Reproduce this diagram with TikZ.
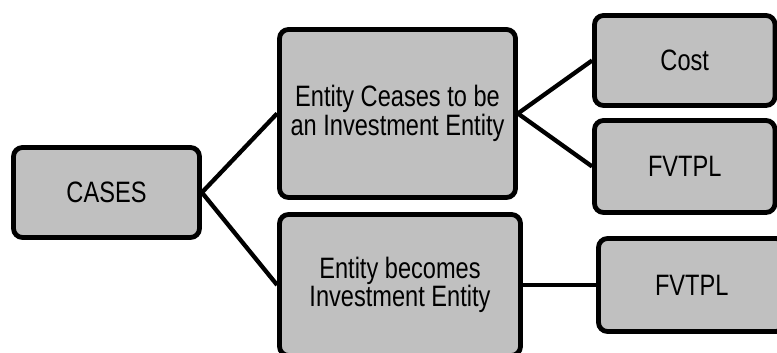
\documentclass[tikz,border=0pt]{standalone}
\usepackage{fontspec}
\setmainfont{Liberation Sans}[FakeStretch=0.8]
\definecolor{boxgray}{RGB}{192,192,192}
\begin{document}
\begin{tikzpicture}[x=1pt,y=1pt,
  box/.style={draw=black, fill=boxgray, line width=4.8pt, rounded corners=9pt,
    align=center, inner sep=0pt, font=\fontsize{29.5}{28.5}\selectfont},
  link/.style={draw=black, line width=4.3pt}]
\useasboundingbox (0,0) rectangle (777,353);
\clip (0,0) rectangle (777,353);
\node[box, minimum width=186pt, minimum height=90pt] (cases) at (106.5,160.5) {CASES};
\node[box, minimum width=236pt, minimum height=168pt] (cease) at (397.5,239.5) {Entity Ceases to be\\an Investment Entity};
\node[box, minimum width=241pt, minimum height=141pt] (become) at (400,68) {Entity becomes\\Investment Entity};
\node[box, minimum width=180.5pt, minimum height=90pt] (cost) at (684.75,292.5) {Cost};
\node[box, minimum width=180.5pt, minimum height=92pt] (fv1) at (684.75,186.5) {FVTPL};
\node[box, minimum width=186.5pt, minimum height=93pt] (fv2) at (691.75,68) {FVTPL};
\draw[link] (cases.east) -- (cease.west);
\draw[link] (cases.east) -- (become.west);
\draw[link] (cease.east) -- (cost.west);
\draw[link] (cease.east) -- (fv1.west);
\draw[link] (become.east) -- (fv2.west);
\end{tikzpicture}
\end{document}
